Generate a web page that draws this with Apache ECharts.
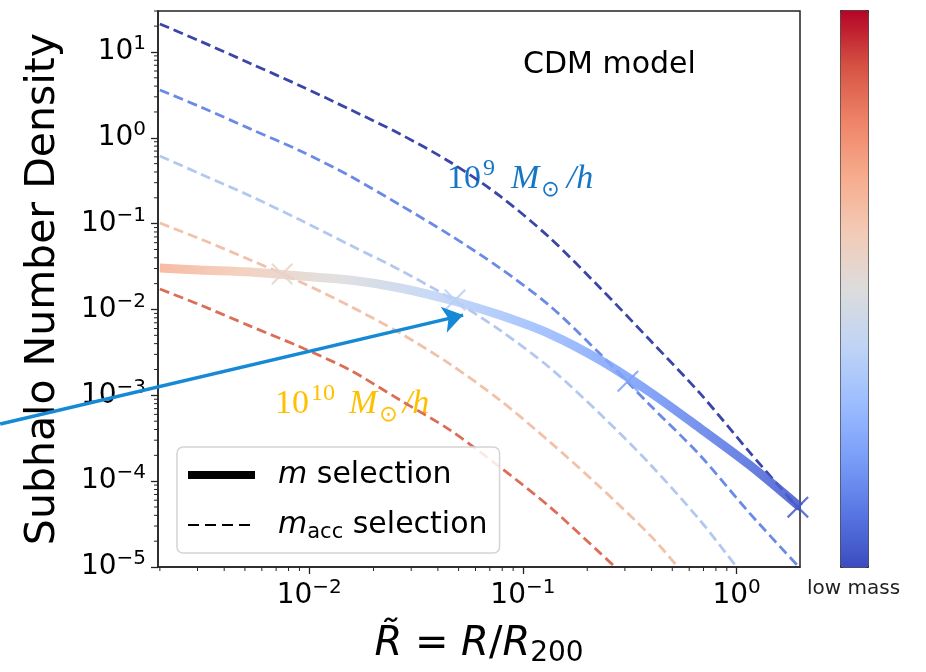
<!DOCTYPE html>
<html><head><meta charset="utf-8">
<script src="https://cdn.jsdelivr.net/npm/echarts@6/dist/echarts.min.js"></script>
<style>html,body{margin:0;padding:0;background:#fff}#c{width:926px;height:672px}</style>
</head><body><div id="c"></div>
<script>
// ---------- data ----------
const xRange = [0.00196, 1.98];
const yRange = [1e-5, 30];
const xMajor = [0.01, 0.1, 1];
const yMajor = [1e-5, 1e-4, 1e-3, 1e-2, 1e-1, 1, 10];

const rGrid = [0.002, 0.0031, 0.0053, 0.0091, 0.0155, 0.0266, 0.0456, 0.078, 0.134, 0.23, 0.393, 0.673, 1.15, 1.98];

// m selection (thick solid line)
const mSelR = rGrid;
const mSelDens = [0.0304, 0.0288, 0.0273, 0.0245, 0.0220, 0.0178, 0.0129, 0.0086, 0.00517, 0.00257, 0.00109, 4.15e-4, 1.54e-4, 4.98e-5];

// m_acc selection (dashed lines), lowest mass bin first
const accR1 = rGrid;
const accDens1 = [21.2, 13.3, 7.35, 4.02, 2.14, 1.107, 0.522, 0.210, 0.068, 0.0178, 0.0044, 0.00106, 2.18e-4, 4.59e-5];
const accR2 = rGrid;
const accDens2 = [3.61, 2.29, 1.27, 0.702, 0.359, 0.165, 0.0736, 0.0304, 0.01095, 0.00302, 7.7e-4, 2.01e-4, 4.24e-5, 9.7e-6];
const accR3 = [0.002, 0.0031, 0.0053, 0.0091, 0.0155, 0.0266, 0.0456, 0.078, 0.134, 0.23, 0.393, 0.673, 1.0];
const accDens3 = [0.614, 0.379, 0.210, 0.110, 0.0563, 0.0288, 0.0136, 0.00575, 0.00208, 6.04e-4, 1.58e-4, 3.51e-5, 1.0e-5];
const accR4 = [0.002, 0.0031, 0.0053, 0.0091, 0.0155, 0.0266, 0.0456, 0.078, 0.134, 0.23, 0.393, 0.531];
const accDens4 = [0.1016, 0.0662, 0.0377, 0.0209, 0.01095, 0.00531, 0.00231, 8.8e-4, 2.85e-4, 8.5e-5, 2.35e-5, 1.0e-5];
const accR5 = [0.002, 0.0031, 0.0053, 0.0091, 0.0155, 0.0266, 0.0456, 0.078, 0.134, 0.23, 0.27];
const accDens5 = [0.0173, 0.01125, 0.0064, 0.00365, 0.00197, 8.8e-4, 3.93e-4, 1.46e-4, 4.98e-5, 1.45e-5, 1.0e-5];

// cross markers on the m-selection line
const markR = [0.00747, 0.0481, 0.310, 1.935];
const markDens = [0.0259, 0.0129, 0.00146, 4.98e-5];

// annotation arrow (data units)
const arrowFrom = [3.58e-4, 4.62e-4];
const arrowTo = [0.0525, 0.0086];

// colour mapping range for the m-selection line (log10 R)
const colorLogRange = [-4.18, 0.44];
const coolwarm = ['#3b4cc0','#5977e3','#7b9ff9','#9ebeff','#c0d4f5','#dddcdc','#f2cbb7','#f7ac8e','#ee8468','#d65244','#b40426'];
const accColors = ['#3a45a8', '#6a8ae6', '#b3c8ef', '#f1c1aa', '#dc6e58'];

// ---------- build ----------
const L = Math.log10;
const pairs = (xs, ys) => xs.map((x, i) => [L(x), L(ys[i])]);
const minorOf = (range) => {
  const out = [];
  for (let e = Math.floor(L(range[0])); e <= Math.ceil(L(range[1])); e++)
    for (let k = 2; k <= 9; k++) { const v = k * Math.pow(10, e); if (v >= range[0] && v <= range[1]) out.push(L(v)); }
  return out;
};
const fmt = v => { const e = Math.round(v); return '{b|10}{s|' + (e < 0 ? '\u2212' + (-e) : e) + '}'; };
const tickRich = {
  b: { fontSize: 28, lineHeight: 36, fontFamily: 'DejaVu Sans', color: '#000' },
  s: { fontSize: 20, lineHeight: 26, verticalAlign: 'top', fontFamily: 'DejaVu Sans', color: '#000' }
};
const xMin = L(xRange[0]), xMax = L(xRange[1]), yMin = L(yRange[0]), yMax = L(yRange[1]);

const accSets = [[accR1, accDens1], [accR2, accDens2], [accR3, accDens3], [accR4, accDens4], [accR5, accDens5]];
const series = accSets.map((s, i) => ({
  type: 'line', data: pairs(s[0], s[1]), symbol: 'none', smooth: 0.3, silent: true,
  lineStyle: { color: accColors[i], width: 2.8, type: [10, 5] }, z: 2
}));
series.push({
  type: 'line', data: pairs(mSelR, mSelDens), symbol: 'none', smooth: 0.3, silent: true,
  lineStyle: { width: 9, opacity: 0.88, cap: 'butt' }, z: 3
});
series.push({
  type: 'scatter', data: pairs(markR, markDens), silent: true, z: 4,
  symbol: 'path://M0,1.4 L1.4,0 L10,8.6 L18.6,0 L20,1.4 L11.4,10 L20,18.6 L18.6,20 L10,11.4 L1.4,20 L0,18.6 L8.6,10 Z',
  symbolSize: 22, itemStyle: { opacity: 0.85 }
});
series.push({
  type: 'lines', coordinateSystem: 'cartesian2d', clip: false, silent: true, z: 10,
  symbol: ['none', 'arrow'], symbolSize: [16, 20],
  lineStyle: { color: '#1589d6', width: 3.5, opacity: 1, curveness: 0 },
  data: [{ coords: [[L(arrowFrom[0]), L(arrowFrom[1])], [L(arrowTo[0]), L(arrowTo[1])]] }]
});
series.push({ type: 'line', name: 'm', data: [], symbol: 'none', itemStyle: { color: '#000' }, lineStyle: { color: '#000', width: 8 } });
series.push({ type: 'line', name: 'macc', data: [], symbol: 'none', itemStyle: { color: '#000' }, lineStyle: { color: '#000', width: 2, type: [11, 6] } });
// minor ticks (log axes), positioned through the axis scales
const minorTickData = minorOf(xRange).map(v => [v, yMin, 0]).concat(minorOf(yRange).map(v => [xMin, v, 1]));
series.push({
  type: 'custom', silent: true, clip: false, z: 5, data: minorTickData,
  renderItem: (params, api) => {
    const p = api.coord([api.value(0), api.value(1)]);
    const isY = api.value(2) === 1;
    return { type: 'line', shape: { x1: p[0], y1: p[1], x2: isY ? p[0] - 4 : p[0], y2: isY ? p[1] : p[1] + 4 },
             style: { stroke: '#222', lineWidth: 1 } };
  }
});

const annoRich = (c, spW, slPad) => ({
  a: { fontSize: 34, lineHeight: 44, fontFamily: 'Liberation Serif', fill: c },
  s: { fontSize: 24, lineHeight: 24, verticalAlign: 'top', padding: [0, 0, 0, 2], fontFamily: 'Liberation Serif', fill: c },
  sp: { fontSize: 34, lineHeight: 44, width: spW },
  m: { fontSize: 34, lineHeight: 44, fontStyle: 'italic', fontFamily: 'Liberation Serif', fill: c },
  sl: { fontSize: 34, lineHeight: 44, fontStyle: 'italic', padding: [0, 0, 0, slPad], fontFamily: 'Liberation Serif', fill: c },
  u: { fontSize: 22, lineHeight: 22, verticalAlign: 'bottom', padding: [0, 2, 0, 2], fontFamily: 'DejaVu Sans', fill: c }
});

const tickStyle = { color: '#222', width: 1.3 };
const chart = echarts.init(document.getElementById('c'), null, { renderer: 'canvas' });
chart.setOption({
  animation: false,
  backgroundColor: '#fff',
  grid: { left: 158, right: 126, top: 11, bottom: 105, show: true, borderColor: '#222', borderWidth: 1.5, containLabel: false, outerBoundsMode: 'none' },
  xAxis: {
    type: 'value', min: xMin, max: xMax, position: 'bottom',
    axisLine: { show: true, onZero: false, lineStyle: { color: '#222', width: 1.5 } },
    axisTick: { show: true, length: 7, lineStyle: tickStyle, customValues: xMajor.map(L) },
    axisLabel: { show: true, margin: 11, formatter: fmt, rich: tickRich, customValues: xMajor.map(L) },
    splitLine: { show: false },
    name: '{i|R\u0303} = {i|R}/{i|R}{sub|200}', nameLocation: 'middle', nameGap: 55,
    nameTextStyle: { fontSize: 40, fontFamily: 'DejaVu Sans', color: '#000', rich: {
      i: { fontSize: 40, lineHeight: 46, fontStyle: 'italic', fontFamily: 'DejaVu Sans', color: '#000' },
      sub: { fontSize: 28, lineHeight: 28, verticalAlign: 'bottom', fontFamily: 'DejaVu Sans', color: '#000' } } }
  },
  yAxis: {
    type: 'value', min: yMin, max: yMax, position: 'left',
    axisLine: { show: true, onZero: false, lineStyle: { color: '#222', width: 1.5 } },
    axisTick: { show: true, length: 7, lineStyle: tickStyle, customValues: yMajor.map(L) },
    axisLabel: { show: true, margin: 12, formatter: fmt, rich: tickRich, customValues: yMajor.map(L) },
    splitLine: { show: false },
    name: 'Subhalo Number Density', nameLocation: 'middle', nameGap: 94,
    nameTextStyle: { fontSize: 41, fontFamily: 'DejaVu Sans', color: '#000' }
  },
  visualMap: {
    type: 'continuous', seriesIndex: [5, 6], dimension: 0,
    min: colorLogRange[0], max: colorLogRange[1], inverse: true,
    inRange: { color: coolwarm.slice().reverse() },
    calculable: false, show: true, hoverLink: false,
    right: 57, top: 10, itemWidth: 28, itemHeight: 557, padding: 0,
    borderColor: '#222', borderWidth: 1
  },
  legend: {
    data: [{ name: 'm' }, { name: 'macc' }],
    orient: 'vertical', left: 177, top: 447,
    itemWidth: 67, itemHeight: 20, itemGap: 14, padding: [10, 12, 10, 7],
    backgroundColor: 'rgba(255,255,255,0.85)', borderColor: '#d4d4d4', borderWidth: 1.5, borderRadius: 6,
    selectedMode: false, lineStyle: { width: 'inherit' }, itemStyle: { opacity: 0 },
    formatter: n => n === 'm' ? '{i|m} selection' : '{i|m}{sub|acc} selection',
    textStyle: { fontSize: 30, lineHeight: 36, fontFamily: 'DejaVu Sans', color: '#000', padding: [0, 0, 0, 18], rich: {
      i: { fontSize: 30, lineHeight: 36, fontStyle: 'italic', fontFamily: 'DejaVu Sans', color: '#000' },
      sub: { fontSize: 21, lineHeight: 21, verticalAlign: 'bottom', fontFamily: 'DejaVu Sans', color: '#000' } } }
  },
  graphic: [
    { type: 'text', left: 523, top: 50, silent: true, style: { text: 'CDM model', fontSize: 30, fontFamily: 'DejaVu Sans', fill: '#000' } },
    { type: 'text', left: 447, top: 157, silent: true, style: {
      text: '{a|10}{s|9}{sp| }{m|M}{u|\u2299}{sl|/}{m|h}', fill: '#1576c6', rich: annoRich('#1576c6', 16, 5) } },
    { type: 'text', left: 275, top: 382, silent: true, style: {
      text: '{a|10}{s|10}{sp| }{m|M}{u|\u2299}{sl|/}{m|h}', fill: '#ffc000', rich: annoRich('#ffc000', 14, 3) } },
    { type: 'text', left: 807, top: 579, silent: true, style: { text: 'low mass', fontSize: 20, fontFamily: 'DejaVu Sans', fill: '#222' } }
  ],
  series: series
});
</script>
</body></html>
